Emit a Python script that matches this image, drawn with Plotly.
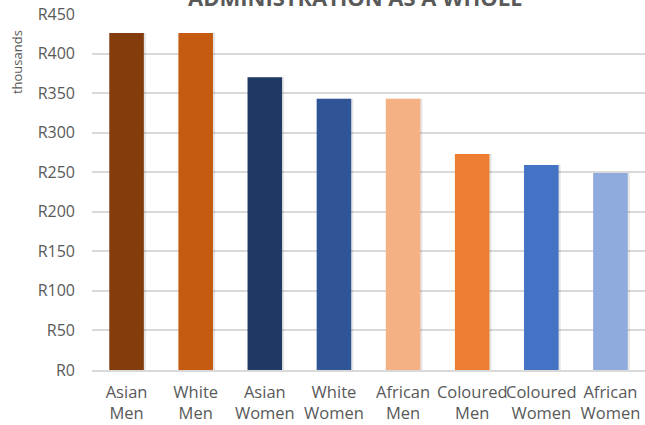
import plotly.graph_objects as go

categories = ["Asian<br>Men", "White<br>Men", "Asian<br>Women", "White<br>Women",
              "African<br>Men", "Coloured<br>Men", "Coloured<br>Women", "African<br>Women"]
values = [426, 426, 370, 343, 343, 273, 259, 249]
colors = ["#843C0C", "#C55A11", "#203864", "#2F5597",
          "#F4B183", "#ED7D31", "#4472C4", "#8FAADC"]
tick_vals = [0, 50, 100, 150, 200, 250, 300, 350, 400, 450]
tick_text = ["R" + str(v) for v in tick_vals]

font_family = "Open Sans, Liberation Sans, sans-serif"

fig = go.Figure()
# soft shadow
fig.add_trace(go.Bar(x=categories, y=values, width=0.5, offset=-0.22,
                     marker=dict(color="rgba(0,0,0,0.10)", line=dict(width=0)),
                     hoverinfo="skip", showlegend=False))
fig.add_trace(go.Bar(x=categories, y=values, width=0.5, offset=-0.25,
                     marker=dict(color=colors, line=dict(width=0)),
                     showlegend=False))

fig.update_layout(
    width=645, height=425,
    margin=dict(l=92, r=0, t=14, b=55),
    paper_bgcolor="white", plot_bgcolor="white",
    barmode="overlay",
    font=dict(family=font_family, color="#595959", size=14),
    xaxis=dict(showgrid=False, showline=True, linecolor="#D9D9D9", linewidth=1.5,
               ticks="", tickfont=dict(size=16.5, color="#595959"), range=[-0.5, 7.5],
               ticklabelstandoff=6, tickangle=0, automargin=False),
    yaxis=dict(range=[0, 450], tickvals=tick_vals, ticktext=tick_text,
               showgrid=True, gridcolor="#D9D9D9", gridwidth=1.5, zeroline=False,
               ticks="", ticklabelstandoff=16, tickfont=dict(size=16, color="#595959"),
               showline=False, automargin=False),
    annotations=[
        dict(text="<b>ADMINISTRATION AS A WHOLE</b>", xref="paper", yref="paper",
             x=0.477, y=1, yanchor="bottom", xanchor="center", yshift=0,
             showarrow=False, font=dict(size=22, color="#595959", family=font_family)),
        dict(text="thousands", xref="paper", yref="paper", x=-0.1356, y=0.865,
             textangle=-90, showarrow=False, xanchor="center", yanchor="middle",
             font=dict(size=13, color="#595959", family=font_family)),
    ],
)

fig.write_html("out.html")
